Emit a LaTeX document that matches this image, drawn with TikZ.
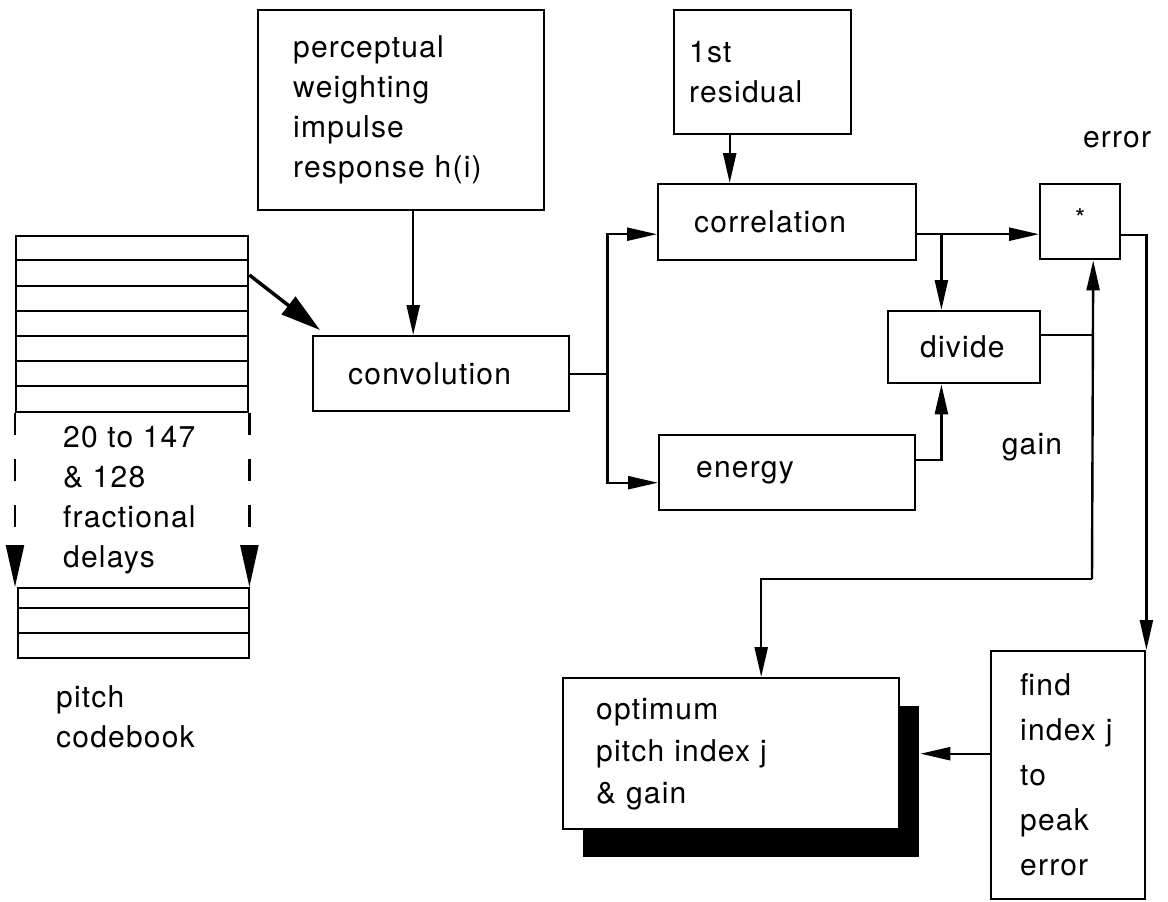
\documentclass[tikz,border=0pt]{standalone}
\usepackage{fontspec}
\setmainfont[LetterSpace=4]{TeX Gyre Heros}
\usetikzlibrary{arrows.meta,calc,shadows}

\begin{document}
\begin{tikzpicture}[x=1pt, y=-1pt, line width=2.4pt,
    txt/.style={font=\fontsize{30}{40}\selectfont, align=left, inner sep=0pt},
    blk/.style={draw, rectangle, anchor=north west, align=left, inner ysep=0pt,
        font=\fontsize{30}{40}\selectfont},
    arr/.style={-{Triangle[length=30pt,width=13pt]}},
    bigarr/.style={-{Triangle[length=40pt,width=22pt]}, line width=3.5pt},
    dasharr/.style={-{Triangle[length=42pt,width=18pt]}, dash pattern=on 22pt off 24pt}]
    \useasboundingbox (0,0) rectangle (1168,902);

    % Pitch codebook
    \node[draw, anchor=north west, minimum width=232pt, minimum height=176pt] (cbtop) at (15,235) {};
    \foreach \y in {260,286,311,336,361,386}
        \draw (15,\y) -- (247,\y);
    \node[draw, anchor=north west, minimum width=231pt, minimum height=70pt] (cbbot) at (17,587) {};
    \foreach \y in {608,633}
        \draw (17,\y) -- (248,\y);
    \draw[dasharr] (cbtop.south west) -- (cbtop.south west |- cbbot.north);
    \draw[dasharr] (cbtop.south east) -- (cbtop.south east |- cbbot.north);
    \node[txt, anchor=west] (delays) at (62,500) {20 to 147\\ \& 128\\ fractional\\ delays};
    \node[txt, anchor=west] (cbname) at (55,717) {pitch\\ codebook};

    % Blocks
    \node[blk, minimum width=286pt, minimum height=200pt, inner xsep=35pt, text width=216pt]
        (weight) at (257,9) {perceptual\\ weighting\\ impulse\\ response h(i)};
    \node[blk, minimum width=177pt, minimum height=124pt, inner xsep=15pt, text width=147pt]
        (resid) at (673,9) {1st\\ residual};
    \node[blk, minimum width=256pt, minimum height=75pt, inner xsep=35pt, text width=186pt]
        (conv) at (312,335) {convolution};
    \node[blk, minimum width=258pt, minimum height=76pt, inner xsep=36pt, text width=186pt]
        (corr) at (657,183) {correlation};
    \node[blk, minimum width=256pt, minimum height=75pt, inner xsep=37pt, text width=182pt]
        (energy) at (658,434) {energy};
    \node[blk, minimum width=152pt, minimum height=72pt, inner xsep=32pt, text width=88pt]
        (divide) at (887,310) {divide};
    \node[draw, anchor=north west, minimum width=80pt, minimum height=75pt, inner sep=0pt,
        text depth=8pt, font=\fontsize{26}{30}\selectfont] (mult) at (1039,183) {*};
    \node[blk, minimum width=154pt, minimum height=248pt, inner xsep=29pt, text width=96pt,
        font=\fontsize{30}{45}\selectfont] (peak) at (990,650) {find\\ index j\\ to\\ peak\\ error};
    \node[blk, fill=white, minimum width=336pt, minimum height=151pt, inner xsep=33pt, text width=270pt,
        font=\fontsize{30}{42}\selectfont,
        drop shadow={shadow xshift=20pt, shadow yshift=-28pt, fill=black, opacity=1}]
        (optim) at (562,677) {optimum\\ pitch index j\\ \& gain};

    % Labels
    \node[txt] (errlbl) at (1117,140) {error};
    \node[txt] (gainlbl) at (1032,447) {gain};

    % Connections
    \draw[bigarr] ([yshift=-40pt]cbtop.north east) -- ($(conv.north west)+(8,-5)$);
    \draw[arr] ([xshift=12pt]weight.south) coordinate (ws) -- (ws |- conv.north);
    \draw[arr] ([xshift=-33pt]resid.south) coordinate (rs) -- (rs |- corr.north);
    \draw (conv.east) -- ++(37,0) coordinate (split);
    \draw[arr] (split) |- ([yshift=-12pt]corr.west);
    \draw[arr] (split) |- ([yshift=-10pt]energy.west);
    \draw[arr] ([yshift=-12pt]corr.east) coordinate (ce) -- (ce -| mult.west);
    \coordinate (tap) at ($(ce)+(24,0)$);
    \draw[arr] (tap) -- (tap |- divide.north);
    \draw[arr] ([yshift=13pt]energy.east) -| (tap |- divide.south);
    \coordinate (gtop) at ([xshift=13pt]mult.south);
    \coordinate (dout) at ([yshift=12pt]divide.east);
    \coordinate (gcorner) at (1092,579);
    \draw (dout) -- (dout -| gtop);
    \draw[arr] (gcorner) -- (gtop);
    \draw[arr] (gcorner) -| ([xshift=30pt]optim.north);
    \draw[arr] ([yshift=-13pt]mult.east) -| (peak.north east);
    \draw[arr] (peak.west |- optim.east) -- ([xshift=20pt]optim.east);
\end{tikzpicture}
\end{document}
